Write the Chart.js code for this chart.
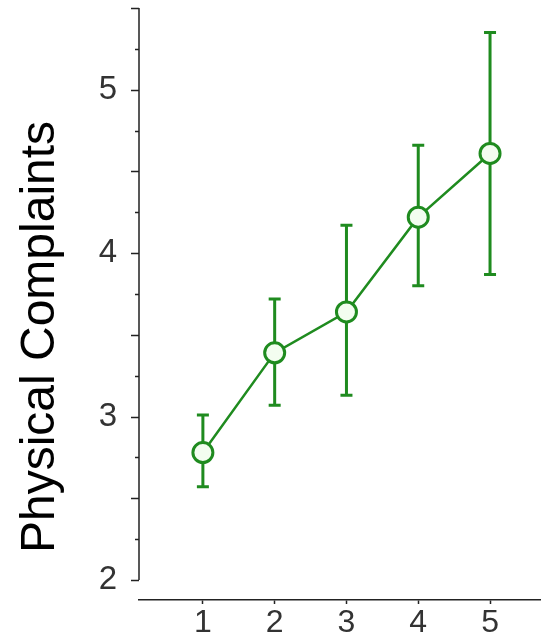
<!DOCTYPE html>
<html>
<head>
<meta charset="utf-8">
<script src="https://cdn.jsdelivr.net/npm/chart.js@4"></script>
<style>
  html, body { margin: 0; padding: 0; background: #fff; }
  #wrap { width: 541px; height: 636px; }
</style>
</head>
<body>
<div id="wrap"><canvas id="chart" width="541" height="636"></canvas></div>
<script>
const waves = [1, 2, 3, 4, 5];
const means = [2.78, 3.39, 3.64, 4.22, 4.61];
const lower = [2.57, 3.07, 3.13, 3.80, 3.87];
const upper = [3.01, 3.72, 4.17, 4.66, 5.35];
const yTicks = [2, 2.25, 2.5, 2.75, 3, 3.25, 3.5, 3.75, 4, 4.25, 4.5, 4.75, 5, 5.25, 5.5];
const yLabel = "Physical Complaints";

const green = "#1f8b1f";

// vertical error bars with caps
const errorBars = {
  id: "errorBars",
  beforeDatasetsDraw(chart) {
    const ctx = chart.ctx;
    const xs = chart.scales.x, ys = chart.scales.y;
    ctx.save();
    ctx.strokeStyle = green;
    ctx.lineWidth = 3;
    waves.forEach((w, i) => {
      const x = xs.getPixelForValue(w);
      const yTop = ys.getPixelForValue(upper[i]);
      const yBot = ys.getPixelForValue(lower[i]);
      ctx.beginPath();
      ctx.moveTo(x, yTop); ctx.lineTo(x, yBot);
      ctx.moveTo(x - 6, yTop); ctx.lineTo(x + 6, yTop);
      ctx.moveTo(x - 6, yBot); ctx.lineTo(x + 6, yBot);
      ctx.stroke();
    });
    ctx.restore();
  }
};

// y axis line (2 .. 5.5 only), tick marks and rotated title
const yAxisDecor = {
  id: "yAxisDecor",
  afterDraw(chart) {
    const ctx = chart.ctx;
    const ys = chart.scales.y;
    const x = chart.chartArea.left;
    ctx.save();
    ctx.strokeStyle = "#222";
    ctx.lineWidth = 1.5;
    ctx.beginPath();
    ctx.moveTo(x, ys.getPixelForValue(yTicks[yTicks.length - 1]));
    ctx.lineTo(x, ys.getPixelForValue(yTicks[0]));
    yTicks.forEach(v => {
      const y = Math.round(ys.getPixelForValue(v)) + 0.5;
      const len = (v * 2) % 1 === 0 ? 8 : 4;
      ctx.moveTo(x - len, y); ctx.lineTo(x, y);
    });
    ctx.stroke();

    ctx.fillStyle = "#000";
    ctx.font = "48px 'Liberation Sans', Arial, sans-serif";
    ctx.textAlign = "center";
    ctx.textBaseline = "alphabetic";
    ctx.translate(54, 337);
    ctx.rotate(-Math.PI / 2);
    ctx.fillText(yLabel, 0, 0);
    ctx.restore();
  }
};

new Chart(document.getElementById("chart"), {
  type: "line",
  data: {
    datasets: [{
      data: waves.map((w, i) => ({ x: w, y: means[i] })),
      borderColor: green,
      borderWidth: 2.5,
      pointRadius: 10,
      pointBorderWidth: 3,
      pointBorderColor: green,
      pointBackgroundColor: "#f3fdf0",
      tension: 0,
      clip: false
    }]
  },
  options: {
    responsive: false,
    animation: false,
    layout: { autoPadding: false, padding: { top: 8, left: 0, right: 0, bottom: 0 } },
    plugins: { legend: { display: false }, tooltip: { enabled: false } },
    scales: {
      x: {
        type: "linear",
        min: 0.11,
        max: 5.71,
        afterBuildTicks: s => { s.ticks = waves.map(v => ({ value: v })); },
        afterFit: s => { s.height = 36; s.paddingLeft = 0; s.paddingRight = 0; },
        grid: { drawOnChartArea: false, drawTicks: true, tickLength: 4, tickColor: "#222", tickWidth: 1.5 },
        border: { display: true, color: "#222", width: 1.5 },
        ticks: {
          padding: 0,
          color: "#333",
          font: { family: "'Liberation Sans', Arial, sans-serif", size: 32 },
          maxRotation: 0
        }
      },
      y: {
        min: 1.8776,
        max: 5.5,
        afterBuildTicks: s => { s.ticks = yTicks.map(v => ({ value: v })); },
        afterFit: s => { s.width = 139; s.paddingTop = 0; s.paddingBottom = 0; },
        grid: { display: false, drawTicks: false },
        border: { display: false },
        ticks: {
          padding: 22,
          color: "#333",
          font: { family: "'Liberation Sans', Arial, sans-serif", size: 33 },
          callback: v => Number.isInteger(v) ? String(v) : ""
        }
      }
    }
  },
  plugins: [errorBars, yAxisDecor]
});
</script>
</body>
</html>
